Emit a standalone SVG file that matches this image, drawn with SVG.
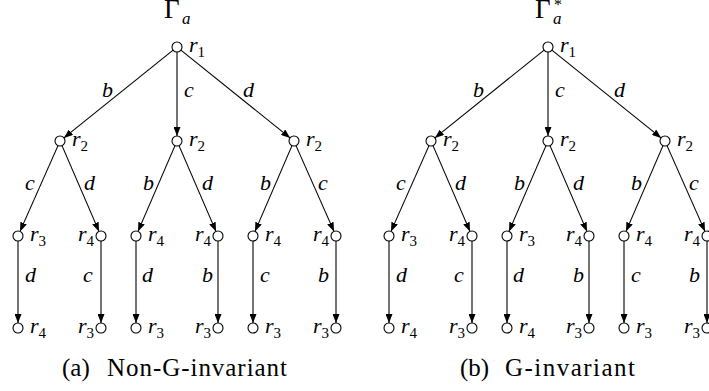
<svg xmlns="http://www.w3.org/2000/svg" width="709" height="391" viewBox="0 0 709 391" font-family="'Liberation Serif', 'Times New Roman', serif">
<style>
.n{fill:#fff;stroke:#000;stroke-width:1.1}
.e{stroke:#000;stroke-width:1.1;fill:none;marker-end:url(#ah)}
.m{font-family:'Liberation Serif','Times New Roman',serif;font-style:italic;font-size:22px;fill:#000}
.s{font-style:normal;font-size:15px}
.t{font-family:'Liberation Serif','Times New Roman',serif;font-size:27px;fill:#000}
.cap{font-family:'Liberation Serif','Times New Roman',serif;font-size:25px;fill:#000}
</style>
<defs>
<marker id="ah" markerUnits="userSpaceOnUse" viewBox="0 0 9 7" refX="9" refY="3.5" markerWidth="9" markerHeight="7" orient="auto">
<path d="M0,0 L9,3.5 L0,7 z" fill="#000"/>
</marker>
</defs>

<g id="titleA"><text class="t" x="164" y="18">Γ</text><text class="m" x="182" y="24" style="font-size:17px">a</text></g>
<g id="titleB"><text class="t" x="535" y="18">Γ</text><text class="m" x="553" y="24" style="font-size:17px">a</text><text class="m" x="554" y="10" style="font-size:16px;font-style:normal">*</text></g>

<!-- Tree A -->
<g id="treeA">
<g id="edgesA">
<line class="e" x1="173.1" y1="50.1" x2="63.9" y2="137.9"/>
<line class="e" x1="177" y1="52" x2="177" y2="136"/>
<line class="e" x1="180.9" y1="50.1" x2="290.1" y2="137.9"/>
<line class="e" x1="58" y1="145.6" x2="20" y2="231.4"/>
<line class="e" x1="62" y1="145.6" x2="99" y2="231.4"/>
<line class="e" x1="175" y1="145.6" x2="138" y2="231.4"/>
<line class="e" x1="179" y1="145.6" x2="216" y2="231.4"/>
<line class="e" x1="292" y1="145.6" x2="255" y2="231.4"/>
<line class="e" x1="296" y1="145.6" x2="334" y2="231.4"/>
<line class="e" x1="18" y1="241" x2="18" y2="323"/>
<line class="e" x1="101" y1="241" x2="101" y2="323"/>
<line class="e" x1="136" y1="241" x2="136" y2="323"/>
<line class="e" x1="218" y1="241" x2="218" y2="323"/>
<line class="e" x1="253" y1="241" x2="253" y2="323"/>
<line class="e" x1="336" y1="241" x2="336" y2="323"/>
<text class="m" x="102" y="97">b</text>
<text class="m" x="184" y="97">c</text>
<text class="m" x="243" y="97">d</text>
<text class="m" x="25" y="190">c</text>
<text class="m" x="84" y="190">d</text>
<text class="m" x="143" y="190">b</text>
<text class="m" x="202" y="190">d</text>
<text class="m" x="260" y="190">b</text>
<text class="m" x="318" y="190">c</text>
<text class="m" x="25" y="282">d</text>
<text class="m" x="83" y="282">c</text>
<text class="m" x="142" y="282">d</text>
<text class="m" x="202" y="282">b</text>
<text class="m" x="260" y="282">c</text>
<text class="m" x="318" y="282">b</text>
</g>
<g id="a_n1"><circle class="n" cx="177" cy="47" r="5"/><text class="m" x="189" y="52">r<tspan class="s" dy="5">1</tspan></text></g>
<g id="a_n2"><circle class="n" cx="60" cy="141" r="5"/><text class="m" x="72" y="146">r<tspan class="s" dy="5">2</tspan></text></g>
<g id="a_n3"><circle class="n" cx="177" cy="141" r="5"/><text class="m" x="189" y="146">r<tspan class="s" dy="5">2</tspan></text></g>
<g id="a_n4"><circle class="n" cx="294" cy="141" r="5"/><text class="m" x="306" y="146">r<tspan class="s" dy="5">2</tspan></text></g>
<g id="a_n5"><circle class="n" cx="18" cy="236" r="5"/><text class="m" x="30" y="241">r<tspan class="s" dy="5">3</tspan></text></g>
<g id="a_n6"><text class="m" x="78" y="241">r<tspan class="s" dy="5">4</tspan></text><circle class="n" cx="101" cy="236" r="5" style="fill:none"/></g>
<g id="a_n7"><circle class="n" cx="136" cy="236" r="5"/><text class="m" x="148" y="241">r<tspan class="s" dy="5">4</tspan></text></g>
<g id="a_n8"><text class="m" x="195" y="241">r<tspan class="s" dy="5">4</tspan></text><circle class="n" cx="218" cy="236" r="5" style="fill:none"/></g>
<g id="a_n9"><circle class="n" cx="253" cy="236" r="5"/><text class="m" x="265" y="241">r<tspan class="s" dy="5">4</tspan></text></g>
<g id="a_n10"><text class="m" x="313" y="241">r<tspan class="s" dy="5">4</tspan></text><circle class="n" cx="336" cy="236" r="5" style="fill:none"/></g>
<g id="a_n11"><circle class="n" cx="18" cy="328" r="5"/><text class="m" x="30" y="333">r<tspan class="s" dy="5">4</tspan></text></g>
<g id="a_n12"><text class="m" x="78" y="333">r<tspan class="s" dy="5">3</tspan></text><circle class="n" cx="101" cy="328" r="5" style="fill:none"/></g>
<g id="a_n13"><circle class="n" cx="136" cy="328" r="5"/><text class="m" x="148" y="333">r<tspan class="s" dy="5">3</tspan></text></g>
<g id="a_n14"><text class="m" x="195" y="333">r<tspan class="s" dy="5">3</tspan></text><circle class="n" cx="218" cy="328" r="5" style="fill:none"/></g>
<g id="a_n15"><circle class="n" cx="253" cy="328" r="5"/><text class="m" x="265" y="333">r<tspan class="s" dy="5">3</tspan></text></g>
<g id="a_n16"><text class="m" x="313" y="333">r<tspan class="s" dy="5">3</tspan></text><circle class="n" cx="336" cy="328" r="5" style="fill:none"/></g>
</g>

<!-- Tree B -->
<g id="treeB" transform="translate(371,0)">
<g id="edgesB">
<line class="e" x1="173.1" y1="50.1" x2="63.9" y2="137.9"/>
<line class="e" x1="177" y1="52" x2="177" y2="136"/>
<line class="e" x1="180.9" y1="50.1" x2="290.1" y2="137.9"/>
<line class="e" x1="58" y1="145.6" x2="20" y2="231.4"/>
<line class="e" x1="62" y1="145.6" x2="99" y2="231.4"/>
<line class="e" x1="175" y1="145.6" x2="138" y2="231.4"/>
<line class="e" x1="179" y1="145.6" x2="216" y2="231.4"/>
<line class="e" x1="292" y1="145.6" x2="255" y2="231.4"/>
<line class="e" x1="296" y1="145.6" x2="334" y2="231.4"/>
<line class="e" x1="18" y1="241" x2="18" y2="323"/>
<line class="e" x1="101" y1="241" x2="101" y2="323"/>
<line class="e" x1="136" y1="241" x2="136" y2="323"/>
<line class="e" x1="218" y1="241" x2="218" y2="323"/>
<line class="e" x1="253" y1="241" x2="253" y2="323"/>
<line class="e" x1="336" y1="241" x2="336" y2="323"/>
<text class="m" x="102" y="97">b</text>
<text class="m" x="184" y="97">c</text>
<text class="m" x="243" y="97">d</text>
<text class="m" x="25" y="190">c</text>
<text class="m" x="84" y="190">d</text>
<text class="m" x="143" y="190">b</text>
<text class="m" x="202" y="190">d</text>
<text class="m" x="260" y="190">b</text>
<text class="m" x="318" y="190">c</text>
<text class="m" x="25" y="282">d</text>
<text class="m" x="83" y="282">c</text>
<text class="m" x="142" y="282">d</text>
<text class="m" x="202" y="282">b</text>
<text class="m" x="260" y="282">c</text>
<text class="m" x="318" y="282">b</text>
</g>
<g id="b_n1"><circle class="n" cx="177" cy="47" r="5"/><text class="m" x="189" y="52">r<tspan class="s" dy="5">1</tspan></text></g>
<g id="b_n2"><circle class="n" cx="60" cy="141" r="5"/><text class="m" x="72" y="146">r<tspan class="s" dy="5">2</tspan></text></g>
<g id="b_n3"><circle class="n" cx="177" cy="141" r="5"/><text class="m" x="189" y="146">r<tspan class="s" dy="5">2</tspan></text></g>
<g id="b_n4"><circle class="n" cx="294" cy="141" r="5"/><text class="m" x="306" y="146">r<tspan class="s" dy="5">2</tspan></text></g>
<g id="b_n5"><circle class="n" cx="18" cy="236" r="5"/><text class="m" x="30" y="241">r<tspan class="s" dy="5">3</tspan></text></g>
<g id="b_n6"><text class="m" x="78" y="241">r<tspan class="s" dy="5">4</tspan></text><circle class="n" cx="101" cy="236" r="5" style="fill:none"/></g>
<g id="b_n7"><circle class="n" cx="136" cy="236" r="5"/><text class="m" x="148" y="241">r<tspan class="s" dy="5">3</tspan></text></g>
<g id="b_n8"><text class="m" x="195" y="241">r<tspan class="s" dy="5">4</tspan></text><circle class="n" cx="218" cy="236" r="5" style="fill:none"/></g>
<g id="b_n9"><circle class="n" cx="253" cy="236" r="5"/><text class="m" x="265" y="241">r<tspan class="s" dy="5">4</tspan></text></g>
<g id="b_n10"><text class="m" x="313" y="241">r<tspan class="s" dy="5">4</tspan></text><circle class="n" cx="336" cy="236" r="5" style="fill:none"/></g>
<g id="b_n11"><circle class="n" cx="18" cy="328" r="5"/><text class="m" x="30" y="333">r<tspan class="s" dy="5">4</tspan></text></g>
<g id="b_n12"><text class="m" x="78" y="333">r<tspan class="s" dy="5">3</tspan></text><circle class="n" cx="101" cy="328" r="5" style="fill:none"/></g>
<g id="b_n13"><circle class="n" cx="136" cy="328" r="5"/><text class="m" x="148" y="333">r<tspan class="s" dy="5">4</tspan></text></g>
<g id="b_n14"><text class="m" x="195" y="333">r<tspan class="s" dy="5">3</tspan></text><circle class="n" cx="218" cy="328" r="5" style="fill:none"/></g>
<g id="b_n15"><circle class="n" cx="253" cy="328" r="5"/><text class="m" x="265" y="333">r<tspan class="s" dy="5">3</tspan></text></g>
<g id="b_n16"><text class="m" x="313" y="333">r<tspan class="s" dy="5">3</tspan></text><circle class="n" cx="336" cy="328" r="5" style="fill:none"/></g>
</g>

<g id="captionA"><text class="cap" x="62" y="376">(a)</text><text class="cap" x="107" y="376" textLength="180" lengthAdjust="spacing">Non-G-invariant</text></g>
<g id="captionB"><text class="cap" x="460" y="376">(b)</text><text class="cap" x="505" y="376" textLength="130" lengthAdjust="spacing">G-invariant</text></g>
</svg>
